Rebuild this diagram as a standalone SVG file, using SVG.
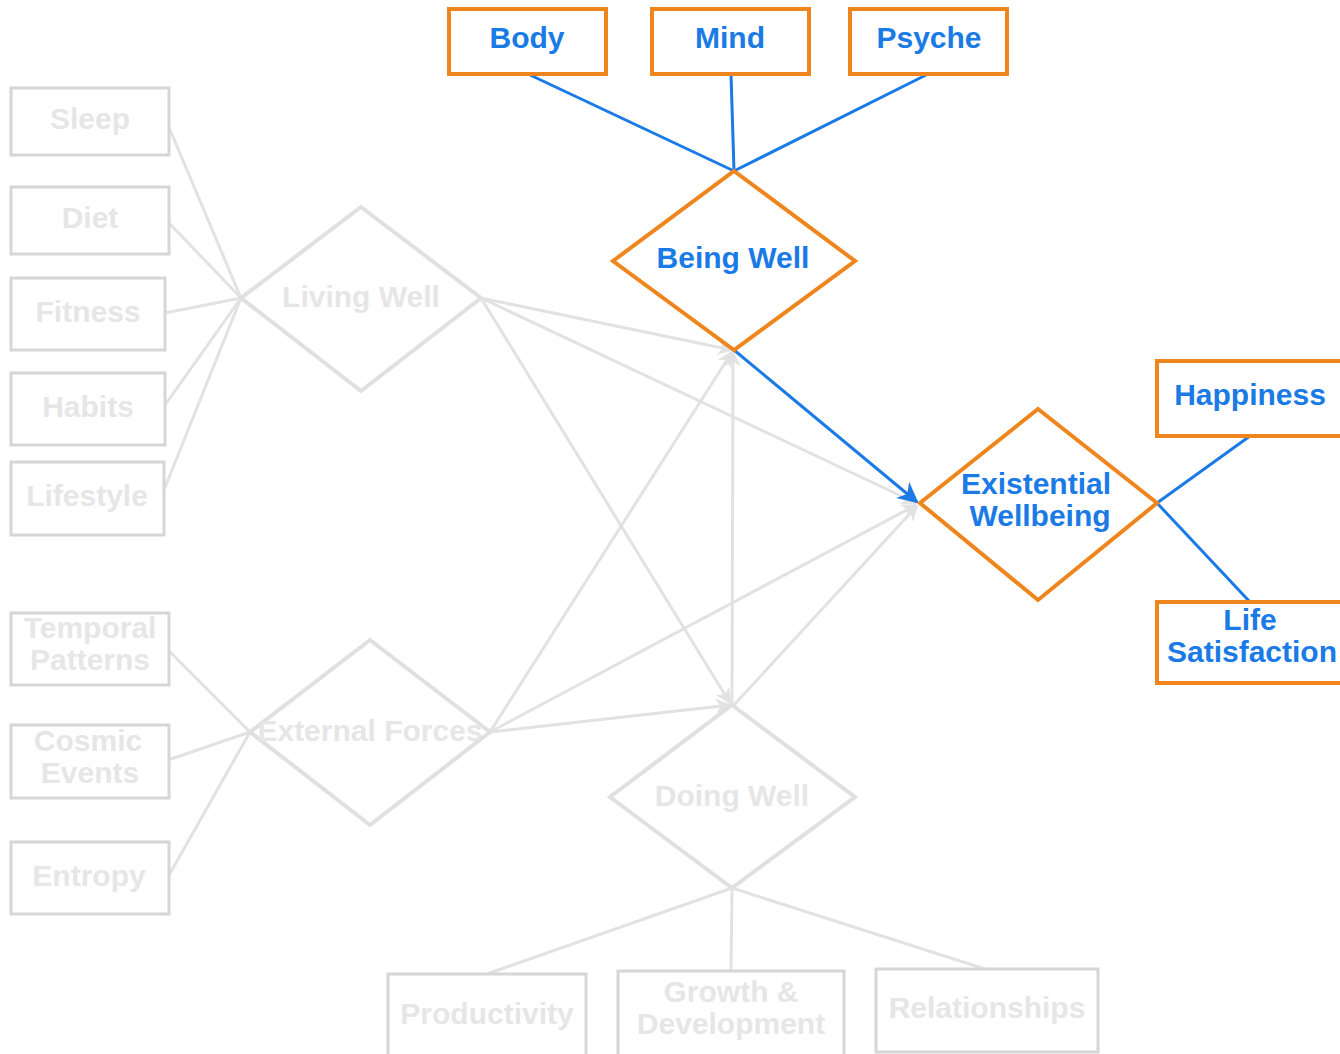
<svg xmlns="http://www.w3.org/2000/svg" width="1340" height="1054" viewBox="0 0 1340 1054">
<defs>
<style>
.gl{stroke:#e2e2e2;stroke-width:3;fill:none}
.bl{stroke:#1a7ae6;stroke-width:3;fill:none}
.gb{fill:#fff;stroke:#d6d6d6;stroke-width:3}
.gd{fill:#fff;stroke:#e0e0e0;stroke-width:4}
.ob{fill:#fff;stroke:#ef861d;stroke-width:4}
.gt{font-family:"Liberation Sans",Arial,sans-serif;font-weight:bold;font-size:30px;fill:#e6e6e6;text-anchor:middle;dominant-baseline:central}
.bt{font-family:"Liberation Sans",Arial,sans-serif;font-weight:bold;font-size:30px;fill:#1a7ae6;text-anchor:middle;dominant-baseline:central}
</style>
<marker id="ag" viewBox="0 0 10 10" refX="9" refY="5" markerWidth="16" markerHeight="16" orient="auto" markerUnits="userSpaceOnUse"><path d="M0,0 L10,5 L0,10 L3,5 z" fill="#e2e2e2"/></marker>
<marker id="ab" viewBox="0 0 10 10" refX="9" refY="5" markerWidth="7" markerHeight="7" orient="auto"><path d="M0,0 L10,5 L0,10 L3,5 z" fill="#1a7ae6"/></marker>
</defs>
<g id="connectors">
<line class="gl" x1="168" y1="125" x2="241" y2="298"/>
<line class="gl" x1="168" y1="222" x2="241" y2="298"/>
<line class="gl" x1="165" y1="313" x2="241" y2="298"/>
<line class="gl" x1="165" y1="405" x2="241" y2="298"/>
<line class="gl" x1="164" y1="490" x2="241" y2="298"/>
<line class="gl" x1="168" y1="650" x2="250" y2="732"/>
<line class="gl" x1="168" y1="760" x2="250" y2="732"/>
<line class="gl" x1="168" y1="877" x2="250" y2="732"/>
<line class="gl" x1="481" y1="298" x2="732" y2="350" marker-end="url(#ag)"/>
<line class="gl" x1="481" y1="298" x2="916" y2="503" marker-end="url(#ag)"/>
<line class="gl" x1="481" y1="298" x2="730" y2="703" marker-end="url(#ag)"/>
<line class="gl" x1="490" y1="732" x2="732" y2="352" marker-end="url(#ag)"/>
<line class="gl" x1="490" y1="732" x2="916" y2="505" marker-end="url(#ag)"/>
<line class="gl" x1="490" y1="732" x2="730" y2="705" marker-end="url(#ag)"/>
<line class="gl" x1="732" y1="705" x2="733" y2="352" marker-end="url(#ag)"/>
<line class="gl" x1="734" y1="705" x2="917" y2="506" marker-end="url(#ag)"/>
<line class="gl" x1="732" y1="888" x2="487" y2="974"/>
<line class="gl" x1="732" y1="888" x2="731" y2="971"/>
<line class="gl" x1="732" y1="888" x2="985" y2="969"/>
<line class="bl" x1="528" y1="74" x2="734" y2="171"/>
<line class="bl" x1="731" y1="74" x2="734" y2="171"/>
<line class="bl" x1="928" y1="74" x2="734" y2="171"/>
<line class="bl" x1="734" y1="350" x2="917" y2="502" marker-end="url(#ab)"/>
<line class="bl" x1="1157" y1="503" x2="1250" y2="436"/>
<line class="bl" x1="1157" y1="503" x2="1250" y2="602"/>
</g>
<g id="sleep"><rect class="gb" x="11" y="88" width="158" height="67"/><text class="gt" x="90" y="118">Sleep</text></g>
<g id="diet"><rect class="gb" x="11" y="187" width="158" height="67"/><text class="gt" x="90" y="217">Diet</text></g>
<g id="fitness"><rect class="gb" x="11" y="278" width="154" height="72"/><text class="gt" x="88" y="311">Fitness</text></g>
<g id="habits"><rect class="gb" x="11" y="373" width="154" height="72"/><text class="gt" x="88" y="406">Habits</text></g>
<g id="lifestyle"><rect class="gb" x="11" y="462" width="153" height="73"/><text class="gt" x="87" y="495">Lifestyle</text></g>
<g id="living-well"><polygon class="gd" points="361,207 481,298 361,391 241,298"/><text class="gt" x="361" y="296">Living Well</text></g>
<g id="temporal-patterns"><rect class="gb" x="11" y="613" width="158" height="72"/><text class="gt" x="90" y="627">Temporal</text><text class="gt" x="90" y="659">Patterns</text></g>
<g id="cosmic-events"><rect class="gb" x="11" y="725" width="158" height="73"/><text class="gt" x="88" y="740">Cosmic</text><text class="gt" x="90" y="772">Events</text></g>
<g id="entropy"><rect class="gb" x="11" y="842" width="158" height="72"/><text class="gt" x="89" y="875">Entropy</text></g>
<g id="external-forces"><polygon class="gd" points="370,640 490,732 370,825 250,732"/><text class="gt" x="370" y="730">External Forces</text></g>
<g id="doing-well"><polygon class="gd" points="732,705 855,797 732,888 610,797"/><text class="gt" x="732" y="795">Doing Well</text></g>
<g id="productivity"><rect class="gb" x="388" y="974" width="198" height="82"/><text class="gt" x="487" y="1013">Productivity</text></g>
<g id="growth"><rect class="gb" x="618" y="971" width="226" height="85"/><text class="gt" x="731" y="991">Growth &amp;</text><text class="gt" x="731" y="1023">Development</text></g>
<g id="relationships"><rect class="gb" x="876" y="969" width="222" height="83"/><text class="gt" x="987" y="1007">Relationships</text></g>
<g id="body"><rect class="ob" x="449" y="9" width="157" height="65"/><text class="bt" x="527" y="37">Body</text></g>
<g id="mind"><rect class="ob" x="652" y="9" width="157" height="65"/><text class="bt" x="730" y="37">Mind</text></g>
<g id="psyche"><rect class="ob" x="850" y="9" width="157" height="65"/><text class="bt" x="929" y="37">Psyche</text></g>
<g id="being-well"><polygon class="ob" points="734,171 855,261 734,350 613,261"/><text class="bt" x="733" y="257">Being Well</text></g>
<g id="existential-wellbeing"><polygon class="ob" points="1038,409 1157,503 1038,600 920,503"/><text class="bt" x="1036" y="483">Existential</text><text class="bt" x="1040" y="515">Wellbeing</text></g>
<g id="happiness"><rect class="ob" x="1157" y="361" width="190" height="75"/><text class="bt" x="1250" y="394">Happiness</text></g>
<g id="life-satisfaction"><rect class="ob" x="1157" y="602" width="190" height="81"/><text class="bt" x="1250" y="619">Life</text><text class="bt" x="1252" y="651">Satisfaction</text></g>
</svg>
